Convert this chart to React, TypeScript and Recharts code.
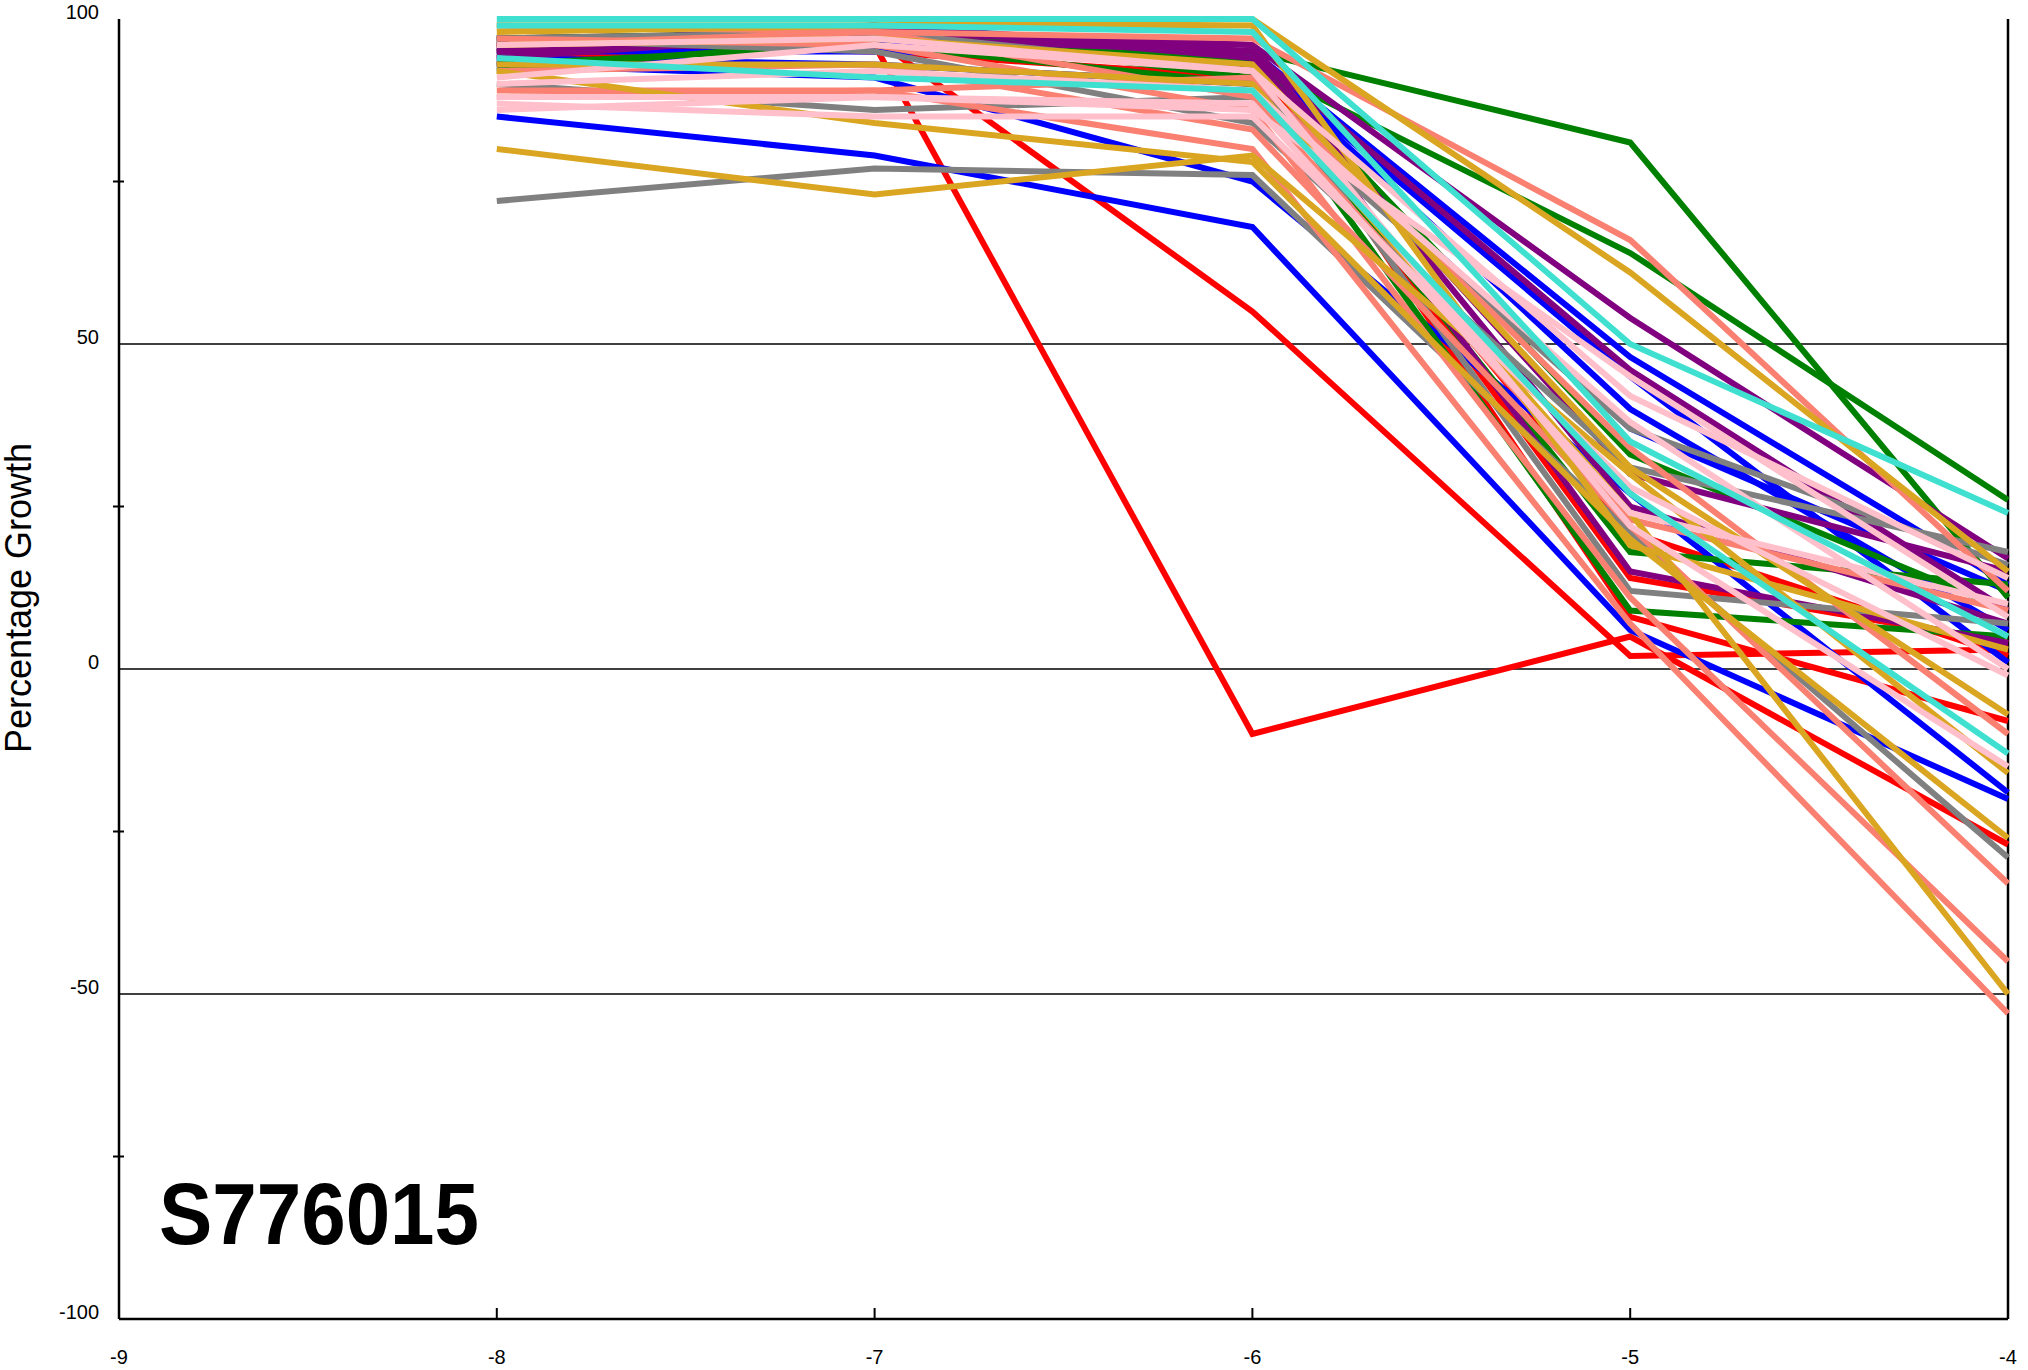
// Dose-response chart for S776015

import { LineChart, Line, XAxis, YAxis, CartesianGrid, ReferenceLine } from 'recharts';

const FONT = '"Liberation Sans", Arial, sans-serif';

// log10 molar concentrations
const doses = [-8, -7, -6, -5, -4];
const xTicks = [-9, -8, -7, -6, -5, -4];
const yTicks = [-100, -75, -50, -25, 0, 25, 50, 75, 100];
const gridValues = [-50, 0, 50];

// percentage growth per cell line, one value per dose
const redLines = [
  [94, 96, -10, 5, -27],
  [93, 97, 55, 2, 3],
  [97, 98, 94, 8, -8],
  [96, 95, 91, 21, 2],
  [95, 97, 93, 14, 4],
];
const blueLines = [
  [85, 79, 68, 6, -20],
  [93, 91, 75, 27, -19],
  [97, 96, 95, 48, 13],
  [95, 95, 94, 40, 6],
  [96, 97, 94, 45, 1],
  [94, 93, 90, 37, 12],
];
const greenLines = [
  [92, 97, 95, 81, 11],
  [96, 99, 93, 64, 26],
  [97, 98, 91, 18, 13],
  [93, 96, 90, 9, 5],
  [95, 97, 94, 33, 9],
];
const purpleLines = [
  [95, 98, 96, 54, 17],
  [96, 99, 95, 46, 9],
  [94, 98, 96, 25, 7],
  [95, 97, 95, 15, 4],
  [96, 99, 94, 30, 15],
];
const grayLines = [
  [72, 77, 76, 21, -29],
  [97, 95, 84, 31, 18],
  [90, 86, 88, 37, 16],
  [97, 98, 92, 12, 7],
];
const turquoiseLines = [
  [100, 100, 100, 50, 24],
  [94, 91, 89, 27, -13],
  [99, 99, 98, 35, 5],
];
const salmonLines = [
  [99, 98, 97, 66, 12],
  [89, 89, 80, 7, -53],
  [97, 96, 86, 11, -45],
  [92, 93, 83, 22, -33],
  [88, 89, 91, 34, -10],
  [96, 98, 88, 23, 9],
];
const goldLines = [
  [80, 73, 79, 30, -16],
  [92, 84, 78, 20, -26],
  [98, 99, 100, 61, 15],
  [93, 93, 90, 24, -50],
  [96, 97, 93, 31, -7],
  [99, 99, 99, 19, 3],
];
const pinkLines = [
  [91, 96, 92, 42, 14],
  [88, 88, 86, 45, 8],
  [87, 85, 85, 28, -1],
  [96, 97, 92, 22, -15],
  [90, 92, 89, 38, 0],
  [86, 88, 87, 24, 10],
];

const groups = [
  { color: '#ff0000', lines: redLines },
  { color: '#0000ff', lines: blueLines },
  { color: '#008000', lines: greenLines },
  { color: '#800080', lines: purpleLines },
  { color: '#808080', lines: grayLines },
  { color: '#fa8072', lines: salmonLines },
  { color: '#daa520', lines: goldLines },
  { color: '#ffc0cb', lines: pinkLines },
  { color: '#40e0d0', lines: turquoiseLines },
];

const series = groups.flatMap((g, gi) =>
  g.lines.map((vals, li) => ({ key: `s${gi}_${li}`, color: g.color, vals }))
);

const data = doses.map((dose, i) => {
  const row: Record<string, number> = { dose };
  series.forEach((s) => {
    row[s.key] = s.vals[i];
  });
  return row;
});

function BottomTick(props: any) {
  const { x, y, payload } = props;
  const v = payload.value;
  const inner = v > -9 && v < -4;
  return (
    <g>
      {inner && <line x1={x} x2={x} y1={y} y2={y - 11} stroke="#000" strokeWidth={2} />}
      <text x={x} y={y + 45} textAnchor="middle" fontSize={20} fontFamily={FONT} fill="#000">
        {v}
      </text>
    </g>
  );
}

function TopTick(props: any) {
  const { x, y, payload } = props;
  const v = payload.value;
  if (v <= -9 || v >= -4) return <g />;
  return <line x1={x} x2={x} y1={y} y2={y - 10} stroke="#000" strokeWidth={2} />;
}

function LeftTick(props: any) {
  const { x, y, payload } = props;
  const v = payload.value;
  if (v % 50 === 0) {
    return (
      <text x={x - 20} y={y} textAnchor="end" fontSize={20} fontFamily={FONT} fill="#000">
        {v}
      </text>
    );
  }
  return <line x1={x - 6} x2={x + 5} y1={y} y2={y} stroke="#000" strokeWidth={2} />;
}

export default function App() {
  return (
    <div style={{ position: 'absolute', left: 0, top: 0, width: 2028, height: 1370, background: '#fff' }}>
      <LineChart
        width={2028}
        height={1370}
        data={data}
        margin={{ top: 19, right: 20, left: 19, bottom: 11 }}
      >
        <CartesianGrid horizontal vertical={false} horizontalValues={gridValues} stroke="#000" strokeWidth={1.5} />
        <XAxis
          dataKey="dose"
          type="number"
          domain={[-9, -4]}
          ticks={xTicks}
          height={40}
          tickSize={0}
          tickMargin={0}
          tickLine={false}
          axisLine={{ stroke: '#000', strokeWidth: 2.5 }}
          tick={<BottomTick />}
          interval={0}
        />
        <XAxis
          xAxisId="top"
          orientation="top"
          dataKey="dose"
          type="number"
          domain={[-9, -4]}
          ticks={xTicks}
          height={0}
          tickSize={0}
          tickMargin={0}
          tickLine={false}
          axisLine={{ stroke: '#000', strokeWidth: 2 }}
          tick={<TopTick />}
          interval={0}
        />
        <YAxis
          type="number"
          domain={[-100, 100]}
          ticks={yTicks}
          width={100}
          tickSize={0}
          tickMargin={0}
          tickLine={false}
          axisLine={{ stroke: '#000', strokeWidth: 2.5 }}
          tick={<LeftTick />}
          interval={0}
        />
        <ReferenceLine x={-4} stroke="#000" strokeWidth={2.5} />
        {series.map((s) => (
          <Line
            key={s.key}
            dataKey={s.key}
            stroke={s.color}
            strokeWidth={6}
            dot={false}
            activeDot={false}
            type="linear"
            isAnimationActive={false}
          />
        ))}
      </LineChart>
      <svg
        width={2028}
        height={1370}
        style={{ position: 'absolute', left: 0, top: 0, pointerEvents: 'none' }}
      >
        <text
          x={31}
          y={598}
          transform="rotate(-90 31 598)"
          textAnchor="middle"
          fontSize={36}
          fontFamily={FONT}
          fill="#000"
        >
          Percentage Growth
        </text>
        <text
          x={159}
          y={1244}
          fontSize={88}
          fontWeight="bold"
          fontFamily={FONT}
          fill="#000"
          textLength={320}
          lengthAdjust="spacingAndGlyphs"
        >
          S776015
        </text>
      </svg>
    </div>
  );
}
